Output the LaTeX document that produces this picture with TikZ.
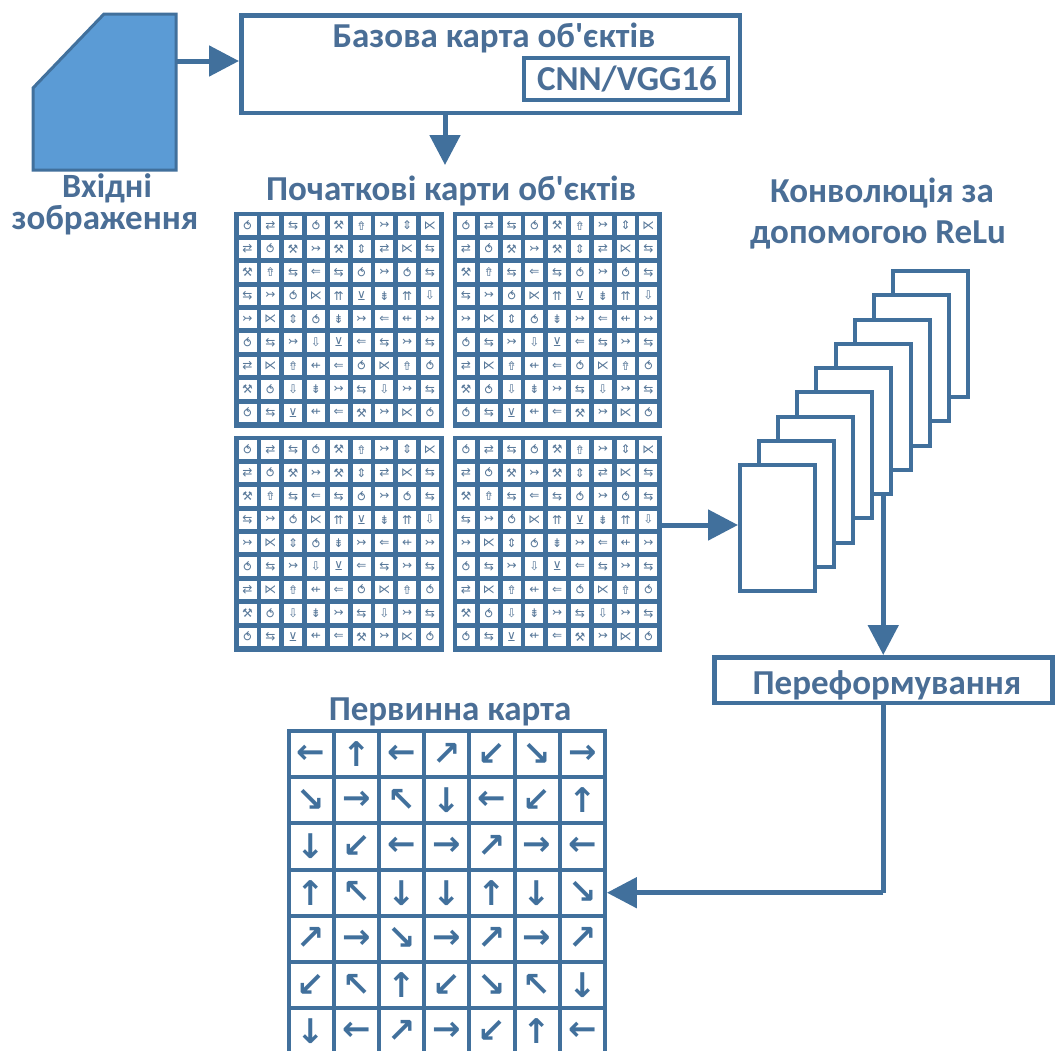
\documentclass[tikz,border=0pt]{standalone}
\usepackage{fontspec}
\usetikzlibrary{arrows.meta}
\newfontfamily\labfont{Carlito}
\newfontfamily\symfont{DejaVu Sans}
\definecolor{linec}{HTML}{41709C}
\definecolor{textc}{HTML}{4A6E96}
\definecolor{fillc}{HTML}{5B9BD5}
\definecolor{glyphc}{HTML}{587899}
\tikzset{
  lab/.style={text=textc,inner sep=0pt,font=\labfont\bfseries\fontsize{#1}{#1}\selectfont},
  frame/.style={draw=linec,line width=#1,fill=white,inner sep=0pt,anchor=north west},
  conn/.style={draw=linec,line width=5pt,-{Triangle[length=30pt,width=30pt]}},
  plainconn/.style={draw=linec,line width=5pt},
  gridbg/.style={fill=linec,inner sep=0pt,outer sep=0pt,anchor=north west,minimum width=209.5pt,minimum height=216pt},
  smallcell/.style={fill=white,text=glyphc,inner sep=0pt,minimum width=18pt,minimum height=18.4pt,font=\symfont\fontsize{12}{12}\selectfont},
  bigcell/.style={draw=linec,line width=4pt,fill=white,text=linec,inner sep=0pt,minimum width=45.2pt,minimum height=46.2pt,font=\symfont\bfseries\fontsize{34}{34}\selectfont}
}
\newcommand{\glyphgrid}[3]{%
  \node[gridbg] (#1) at (#2,#3) {};
  \foreach \rowlist [count=\r] in {%
    {⥀,⇄,⇆,⥀,⚒,⇮,↣,⇕,⋉},
    {⇄,⥀,⚒,↣,⚒,⇕,⇄,⋉,⇆},
    {⚒,⇮,⇆,⇐,⇆,⥀,↣,⥀,⇆},
    {⇆,↣,⥀,⋉,⇈,⊻,⇟,⇈,⇩},
    {↣,⋉,⇕,⥀,⇟,↣,⇐,⇷,↣},
    {⥀,⇆,↣,⇩,⊻,⇐,⇆,↣,⇆},
    {⇄,⋉,⇮,⇷,⇐,⥀,⋉,⇮,⥀},
    {⚒,⥀,⇩,⇟,↣,⇆,⇩,↣,⇆},
    {⥀,⇆,⊻,⇷,⇐,⚒,↣,⋉,⥀}} {
    \foreach \g [count=\c] in \rowlist {
      \node[smallcell] (#1-\r-\c) at ({#2+13.5+(\c-1)*22.8},{#3+13.5+(\r-1)*23.4}) {\g};
    }
  }%
}
\begin{document}
\begin{tikzpicture}[x=1pt,y=-1pt]
\useasboundingbox (0,0) rectangle (1055,1050);
\clip (0,0) rectangle (1055,1050);
\fill[white] (0,0) rectangle (1055,1050);
% input image
\draw[fill=fillc,draw=linec,line width=3pt] (33,88) -- (104,14) -- (176,14) -- (176,170) -- (33,170) -- cycle;
\coordinate (imgout) at (177,61);
\node[lab=34] (imgl1) at (107,188) {Вхідні};
\node[lab=35] (imgl2) at (105,220) {зображення};
% base box
\node[frame=4.5pt,minimum width=498.5pt,minimum height=97.5pt] (basebox) at (239,13) {};
\node[lab=35] (basetxt) at (494,38) {Базова карта об'єктів};
\node[frame=4pt,minimum width=204pt,minimum height=42pt] (cnnbox) at (522,56) {};
\node[lab=35] (cnntxt) at (627,79) {CNN/VGG16};
\draw[conn] (imgout) -- (basebox.west |- imgout);
\coordinate (basedown) at (445,115);
\coordinate (titletop) at (445,165);
\draw[conn] (basedown) -- (titletop);
\node[lab=35] (gridtitle) at (451,191) {Початкові карти об'єктів};
% grids
\glyphgrid{gtl}{234}{212}
\glyphgrid{gtr}{452.5}{212}
\glyphgrid{gbl}{234}{436}
\glyphgrid{gbr}{452.5}{436}
% stack
\node[lab=35] (convl1) at (882,193) {Конволюція за};
\node[lab=35] (convl2) at (878,235) {допомогою ReLu};
\foreach \i in {8,7,...,0} {
  \node[frame=4pt,minimum width=75pt,minimum height=126pt] (fr\i) at ({738+\i*19.1},{463-\i*24.25}) {};
}
\coordinate (grout) at (662,525);
\draw[conn] (grout) -- (fr0.west |- grout);
% reshape
\node[frame=4.5pt,minimum width=338pt,minimum height=45.5pt] (reshape) at (712,655) {};
\node[lab=35] (reshapetxt) at (887,685) {Переформування};
\draw[conn] (fr4.south -| reshape.north) -- (reshape.north);
% primary map
\node[lab=35] (maptitle) at (450,712) {Первинна карта};
\foreach \rowlist [count=\r] in {%
  {←,↑,←,↗,↙,↘,→},
  {↘,→,↖,↓,←,↙,↑},
  {↓,↙,←,→,↗,→,←},
  {↑,↖,↓,↓,↑,↓,↘},
  {↗,→,↘,→,↗,→,↗},
  {↙,↖,↑,↙,↘,↖,↓},
  {↓,←,↗,→,↙,↑,←}} {
  \foreach \g [count=\c] in \rowlist {
    \node[bigcell] (m-\r-\c) at ({288.5+22.6+(\c-1)*45.2},{731+23.1+(\r-1)*46.2}) {\g};
  }
}
\coordinate (mapin) at (m-4-7.east);
\coordinate (corner) at (reshape.south |- mapin);
\draw[plainconn] (reshape.south) -- (corner);
\draw[conn] (corner) -- (mapin);
\end{tikzpicture}
\end{document}
